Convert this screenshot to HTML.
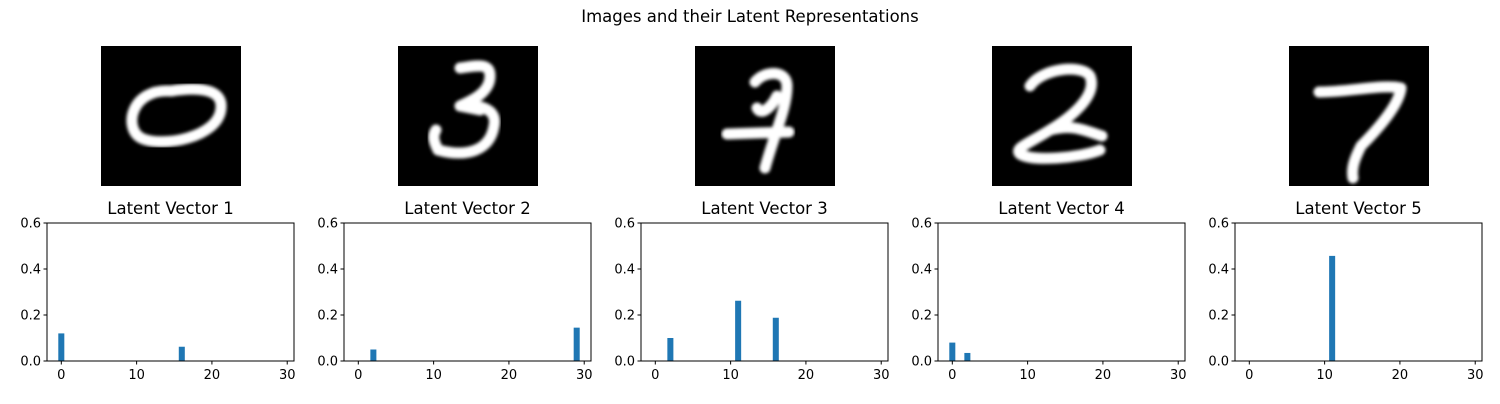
<!DOCTYPE html>
<html><head><meta charset="utf-8"><style>
body{margin:0;background:#fff;width:1500px;height:400px;overflow:hidden;font-family:"DejaVu Sans","Liberation Sans",sans-serif}
</style></head><body>
<svg id="fig" width="1500" height="400" xmlns="http://www.w3.org/2000/svg">
<defs><filter id="bl"><feGaussianBlur stdDeviation="1.6"/></filter></defs>
<text x="750" y="22" text-anchor="middle" font-size="16.5" fill="#000">Images and their Latent Representations</text>
<g id="imgs"></g>
<g id="charts"></g>
</svg>
<script>
const nDims = 30;
const latent1 = {0:0.12, 16:0.062};
const latent2 = {2:0.05, 29:0.145};
const latent3 = {2:0.10, 11:0.262, 16:0.188};
const latent4 = {0:0.08, 2:0.035};
const latent5 = {11:0.457};
const latents = [latent1, latent2, latent3, latent4, latent5];
const yTicks = [0.0, 0.2, 0.4, 0.6];
const xTicks = [0, 10, 20, 30];
const digitPaths = [
 'M70 45 C30 42 22 82 40 92 C60 102 118 92 120 62 C122 40 90 42 70 45',
 'M62 22 C78 20 92 16 92 30 C92 48 70 56 62 60 C80 58 100 62 96 80 C92 104 70 112 40 104 C36 96 34 90 38 84 M62 60 L82 64',
 'M60 36 C70 24 92 24 92 40 C92 62 80 86 70 122 M32 88 L94 86 M82 50 C76 62 66 70 62 62',
 'M38 40 C50 22 90 18 98 30 C106 50 78 72 58 84 C36 98 22 102 28 108 C40 116 88 112 108 104 M58 84 C80 78 92 84 110 90',
 'M30 46 C60 46 94 38 112 42 C110 60 86 86 72 100 C66 112 62 122 64 132'
];
const NS='http://www.w3.org/2000/svg';
function mk(t,a,p){const e=document.createElementNS(NS,t);for(const k in a)e.setAttribute(k,a[k]);p.appendChild(e);return e;}
const imgs=document.getElementById('imgs'), charts=document.getElementById('charts');
const spacing=297, ax0=47, axW=247, axTop=223, axBot=361;
const xmin=-1.9, xmax=30.9, ymax=0.6;
latents.forEach((lat,i)=>{
  const ix=101+i*spacing;
  const g=mk('g',{transform:`translate(${ix},46)`},imgs);
  
  
  mk('rect',{x:0,y:0,width:140,height:140,fill:'#000'},g);
  const p=mk('path',{d:digitPaths[i],fill:'none',stroke:'#fff','stroke-width':11,'stroke-linecap':'round','stroke-linejoin':'round',filter:'url(#bl)'},g);
  
  
  const L=ax0+i*spacing;
  const xs=v=>L+(v-xmin)/(xmax-xmin)*axW;
  const ys=v=>axBot-v/ymax*(axBot-axTop);
  const cg=mk('g',{},charts);
  
  
  const t=mk('text',{x:L+axW/2,y:214,'text-anchor':'middle','font-size':16.5,fill:'#000'},cg);
  t.textContent='Latent Vector '+(i+1);
  
  
  for(let d=0;d<nDims;d++){
    const v=lat[d]||0;
    if(v<=0)continue;
    const b=mk('rect',{x:xs(d-0.4),y:ys(v),width:xs(d+0.4)-xs(d-0.4),height:axBot-ys(v),fill:'#1f77b4'},cg);
    
    
  }
  const fr=mk('rect',{x:L,y:axTop,width:axW,height:axBot-axTop,fill:'none',stroke:'#000','stroke-width':1},cg);
  
  
  yTicks.forEach(v=>{
    mk('line',{x1:L-3.5,x2:L,y1:ys(v),y2:ys(v),stroke:'#000'},cg);
    const tt=mk('text',{x:L-6,y:ys(v)+4.5,'text-anchor':'end','font-size':13,fill:'#000'},cg);
    tt.textContent=v.toFixed(1);
    
    
  });
  xTicks.forEach(v=>{
    mk('line',{x1:xs(v),x2:xs(v),y1:axBot,y2:axBot+3.5,stroke:'#000'},cg);
    const tt=mk('text',{x:xs(v),y:axBot+18,'text-anchor':'middle','font-size':13,fill:'#000'},cg);
    tt.textContent=v;
    
    
  });
});
</script>
</body></html>
